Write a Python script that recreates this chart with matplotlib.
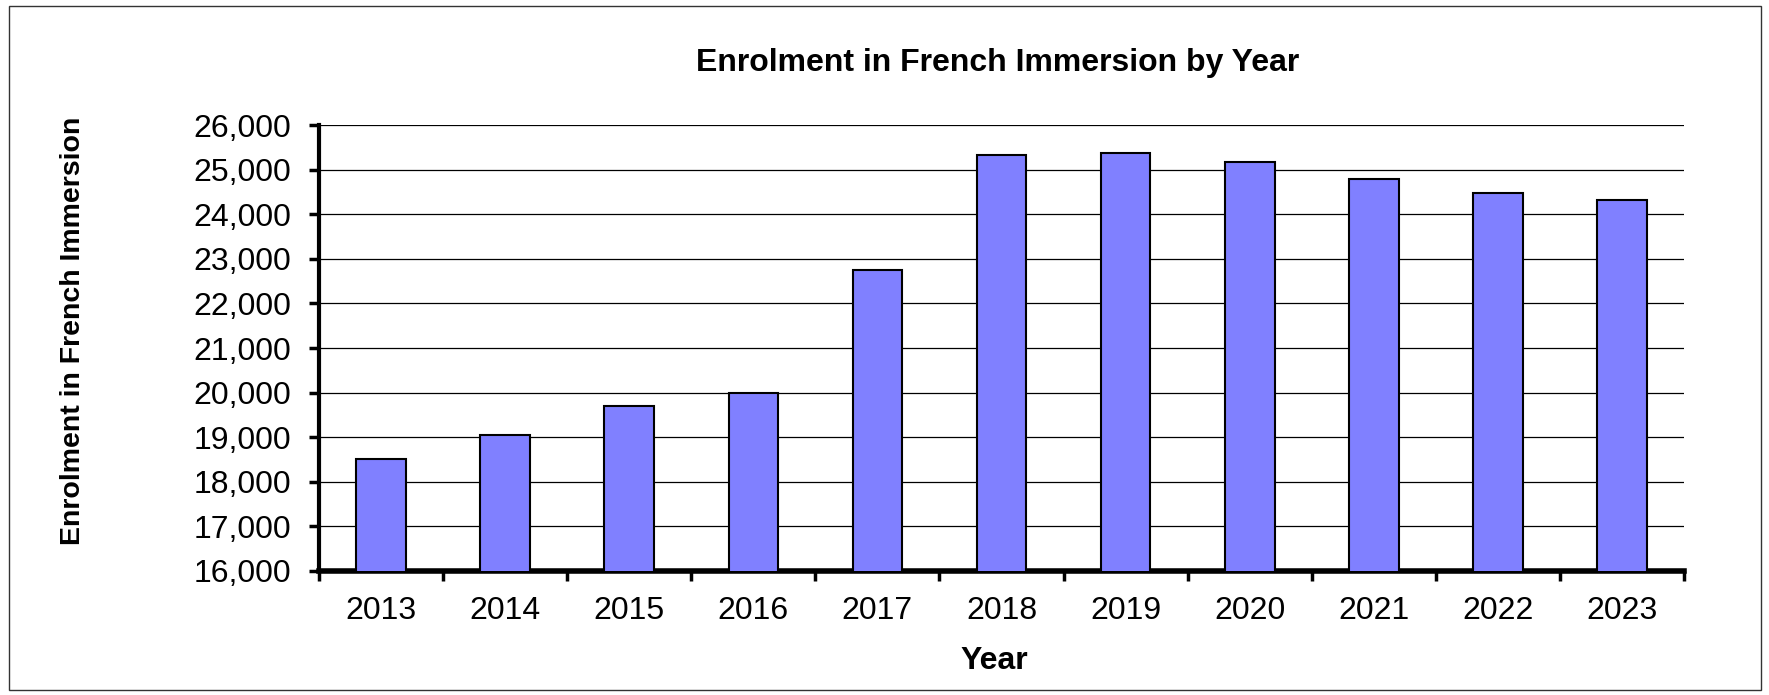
import matplotlib
matplotlib.use("Agg")
import numpy as np
from matplotlib import pyplot as plt
from matplotlib.patches import Rectangle
from matplotlib.ticker import FuncFormatter, MultipleLocator

# Data
years = ["2013", "2014", "2015", "2016", "2017", "2018",
         "2019", "2020", "2021", "2022", "2023"]
enrolment = [18500, 19050, 19700, 20000, 22740, 25320,
             25370, 25160, 24790, 24470, 24310]

title = "Enrolment in French Immersion by Year"
x_label = "Year"
y_label = "Enrolment in French Immersion"

plt.rcParams['font.family'] = ['Liberation Sans', 'DejaVu Sans']

fig = plt.figure(figsize=(17.69, 6.95), dpi=100)
# axes placed to match the reference pixel box
ax = fig.add_axes([319/1769, 1 - 571/695, (1684-319)/1769, (571-125)/695])

x = np.arange(len(years))
ax.bar(x, enrolment, width=0.4, color="#8080FF", edgecolor="black",
       linewidth=1.5, zorder=3)

ax.set_ylim(16000, 26000)
ax.set_xlim(-0.5, len(years) - 0.5)
ax.yaxis.set_major_locator(MultipleLocator(1000))
ax.yaxis.set_major_formatter(FuncFormatter(lambda v, p: f"{int(v):,}"))
ax.grid(axis="y", color="black", linewidth=0.9, zorder=0)

# category labels in the middle, ticks on the boundaries
ax.set_xticks(np.arange(-0.5, len(years)), minor=False)
ax.set_xticklabels([])
ax.set_xticks(x, minor=True)
ax.set_xticklabels(years, minor=True)
ax.tick_params(axis="x", which="major", length=7, width=2.5, direction="out")
ax.tick_params(axis="x", which="minor", length=0, pad=18, labelsize=23)
ax.tick_params(axis="y", length=7, width=2.5, direction="out",
               labelsize=23, pad=13)

for side in ["top", "right"]:
    ax.spines[side].set_visible(False)
ax.spines["left"].set_linewidth(3)
ax.spines["bottom"].set_linewidth(4)

fig.text(998/1769, 1 - 63/695, title, ha="center", va="center",
         fontsize=23, fontweight="bold")
fig.text(994/1769, 1 - 661/695, x_label, ha="center", va="center",
         fontsize=23, fontweight="bold")
fig.text(73/1769, 1 - 331/695, y_label, ha="center", va="center",
         fontsize=20.5, fontweight="bold", rotation=90)

# thin border around the whole chart
fig.patches.append(Rectangle((9/1769, 5/695), 1752/1769, 684/695,
                             transform=fig.transFigure, fill=False,
                             edgecolor="#333333", linewidth=1))

fig.savefig("out.png", dpi=100)
